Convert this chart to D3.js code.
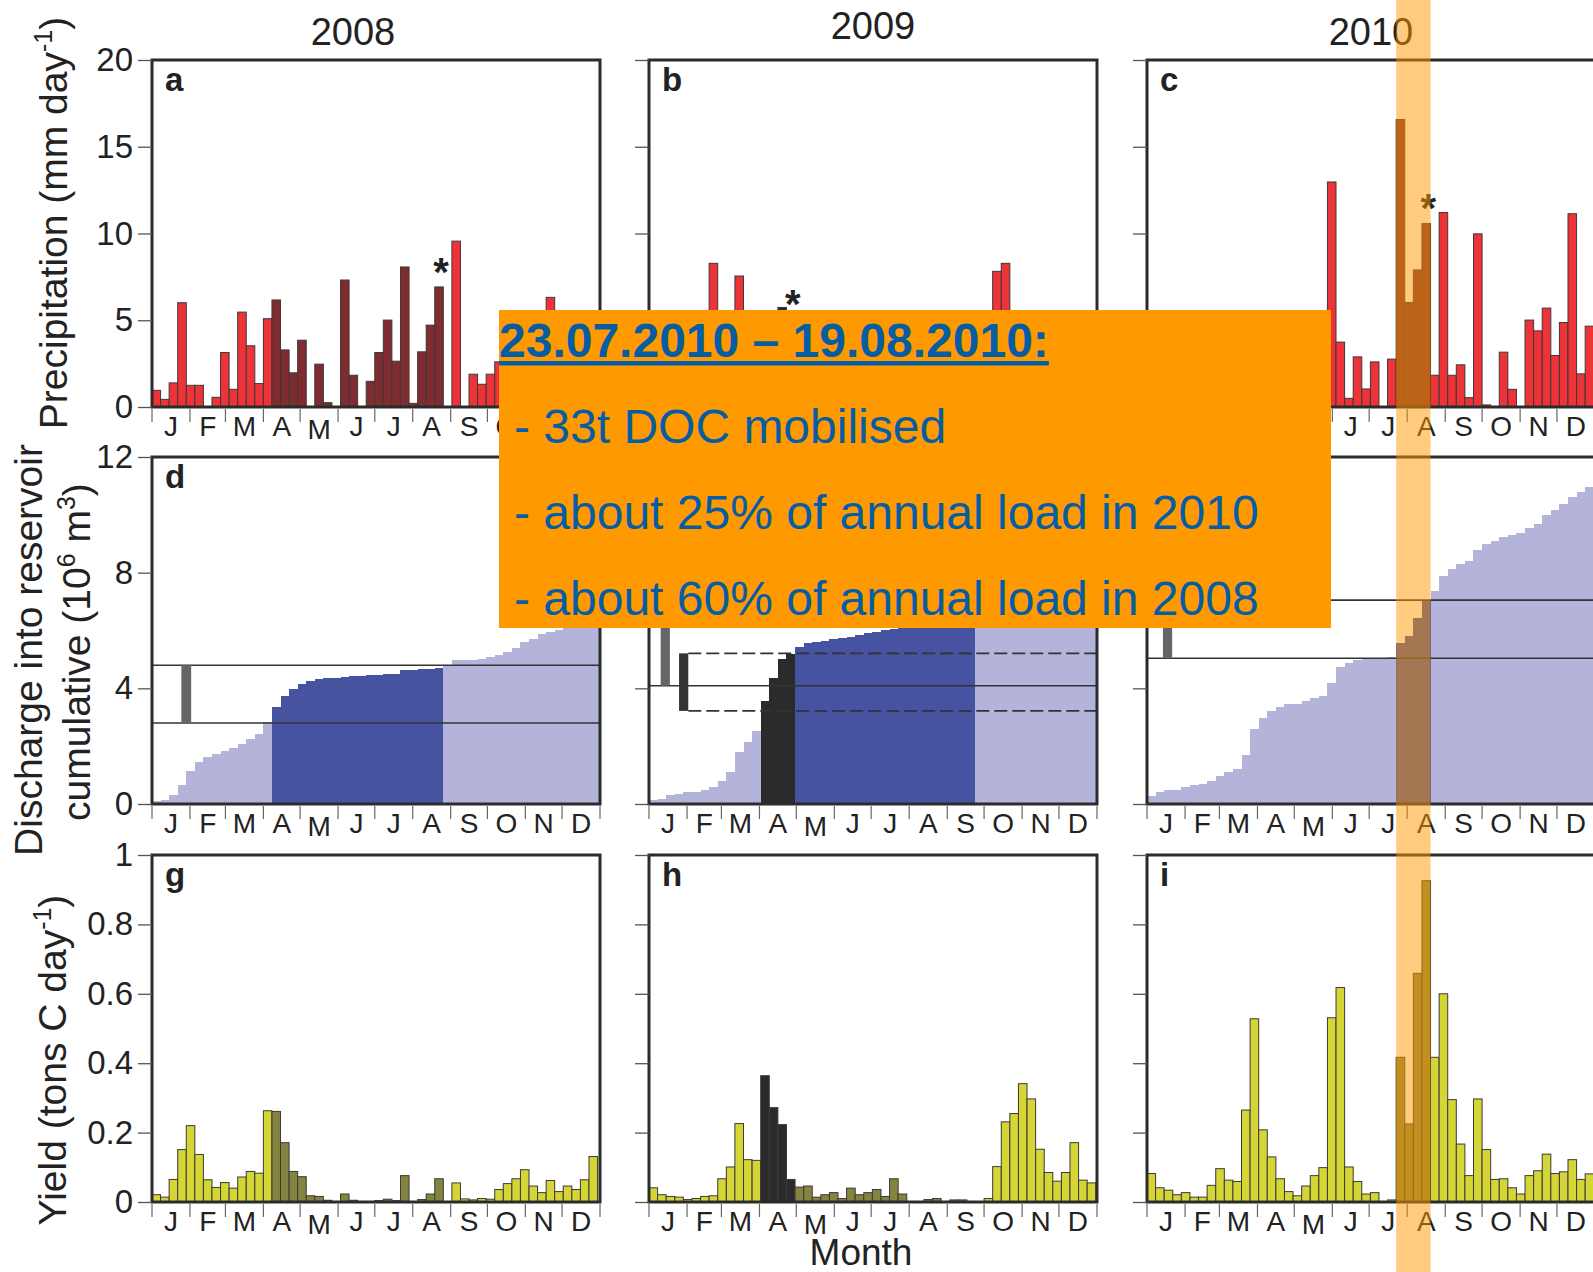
<!DOCTYPE html>
<html>
<head>
<meta charset="utf-8">
<script src="https://cdn.jsdelivr.net/npm/d3@7"></script>
<style>
  html, body { margin: 0; padding: 0; background: #fff; overflow: hidden; }
  svg { display: block; font-family: "Liberation Sans", Arial, Helvetica, sans-serif; }
</style>
</head>
<body>
<svg id="chart" width="1593" height="1272"></svg>
<script>
// ---- data ---------------------------------------------------------------
const years = [2008, 2009, 2010];
const monthLabels = ["J", "F", "M", "A", "M", "J", "J", "A", "S", "O", "N", "D"];
const panelLetters = [["a", "b", "c"], ["d", "e", "f"], ["g", "h", "i"]];

const precipTicks = [0, 5, 10, 15, 20];
const dischargeTicks = [0, 4, 8, 12];
const yieldTicks = [0, 0.2, 0.4, 0.6, 0.8, 1];

// weekly precipitation (mm day-1), weeks counted from 1 January
const precip2008 = [0.96, 0.44, 1.39, 6.01, 1.25, 1.25, 0, 0.56, 3.14, 1.02,
  5.47, 3.53, 1.35, 5.09, 6.17, 3.29, 1.97, 3.85, 0, 2.47,
  0.25, 0, 7.32, 1.83, 0, 1.48, 3.14, 5.01, 2.64, 8.07,
  0.21, 3.18, 4.72, 6.92, 0, 9.56, 0, 1.89, 1.31, 1.89,
  2.6, 1.3, 3.1, 0.9, 2.4, 1.5, 6.32, 2.2, 0.6, 3.4, 1.8, 2.7];
const precip2009 = [1.2, 0.5, 2.1, 0.8, 0, 1.6, 3.2, 8.28, 1.1, 2.4,
  7.55, 2.9, 0.7, 3.8, 1.9, 5.74, 5.1, 2.3, 0.4, 3.5,
  4.2, 1.0, 2.6, 4.8, 0.9, 3.1, 1.7, 4.4, 2.0, 0.6,
  3.9, 1.4, 2.8, 0.3, 1.5, 4.6, 2.2, 0.8, 1.9, 3.3,
  7.82, 8.28, 2.5, 1.2, 4.1, 2.7, 0.9, 3.6, 1.8, 2.4, 4.3, 1.5];
const precip2010 = [2.2, 0.8, 1.5, 3.1, 0.4, 1.9, 0.6, 2.8, 3.4, 1.2,
  2.5, 4.6, 4.9, 1.7, 2.3, 0.9, 1.4, 2.9, 3.6, 2.7,
  3.2, 12.97, 3.74, 0.5, 2.89, 1.04, 2.6, 0, 2.76, 16.57,
  6.03, 7.9, 10.58, 1.83, 11.21, 1.83, 2.43, 0.54, 9.98, 0.12,
  0, 3.16, 1.02, 0, 5.01, 4.39, 5.7, 2.97, 4.87, 11.14, 1.91, 4.66];

// cumulative discharge into the reservoir (10^6 m3) at the end of each week
const discharge2008 = [0.10, 0.15, 0.32, 0.67, 1.15, 1.46, 1.61, 1.73, 1.84, 1.93,
  2.08, 2.26, 2.42, 2.85, 3.37, 3.72, 3.97, 4.14, 4.27, 4.33,
  4.35, 4.35, 4.38, 4.41, 4.43, 4.45, 4.46, 4.48, 4.49, 4.64,
  4.65, 4.66, 4.67, 4.69, 4.80, 4.97, 4.98, 4.99, 5.02, 5.10,
  5.16, 5.27, 5.39, 5.59, 5.71, 5.88, 5.95, 6.02, 6.11, 6.15, 6.18, 6.20];
const discharge2009 = [0.15, 0.18, 0.32, 0.35, 0.40, 0.43, 0.49, 0.58, 0.78, 1.10,
  1.80, 2.14, 2.51, 3.57, 4.36, 5.00, 5.20, 5.42, 5.58, 5.60,
  5.64, 5.71, 5.75, 5.79, 5.85, 5.90, 5.96, 6.02, 6.05, 6.10,
  6.15, 6.20, 6.22, 6.25, 6.30, 6.33, 6.36, 6.40, 6.60, 6.90,
  7.60, 8.00, 8.30, 8.60, 8.80, 9.00, 9.10, 9.20, 9.35, 9.50, 9.55, 9.60];
const discharge2010 = [0.26, 0.41, 0.49, 0.50, 0.58, 0.67, 0.68, 0.78, 0.98, 1.10,
  1.21, 1.70, 2.59, 2.96, 3.20, 3.37, 3.45, 3.47, 3.57, 3.65,
  3.75, 4.18, 4.73, 4.89, 4.98, 5.00, 5.05, 5.06, 5.08, 5.58,
  5.82, 6.42, 7.05, 7.36, 7.88, 8.12, 8.30, 8.41, 8.78, 8.98,
  9.10, 9.24, 9.30, 9.36, 9.53, 9.70, 9.99, 10.16, 10.37, 10.60, 10.79, 10.97];

// weekly DOC yield (tons C day-1)
const yield2008 = [0.021, 0.014, 0.065, 0.151, 0.220, 0.137, 0.064, 0.042, 0.056, 0.040,
  0.072, 0.088, 0.083, 0.263, 0.261, 0.171, 0.088, 0.073, 0.018, 0.016,
  0.005, 0.001, 0.023, 0.005, 0, 0.001, 0.004, 0.008, 0.004, 0.076,
  0, 0.007, 0.023, 0.067, 0, 0.055, 0.009, 0.006, 0.010, 0.008,
  0.036, 0.053, 0.067, 0.093, 0.046, 0.027, 0.062, 0.030, 0.046, 0.036, 0.064, 0.131];
const yield2009 = [0.041, 0.021, 0.016, 0.014, 0.007, 0.010, 0.016, 0.018, 0.067, 0.101,
  0.226, 0.122, 0.120, 0.364, 0.272, 0.223, 0.065, 0.043, 0.046, 0.014,
  0.021, 0.027, 0.010, 0.040, 0.021, 0.027, 0.036, 0.016, 0.067, 0.023,
  0, 0.001, 0.007, 0.010, 0.001, 0.006, 0.006, 0.001, 0.001, 0.010,
  0.102, 0.231, 0.255, 0.341, 0.297, 0.152, 0.085, 0.060, 0.085, 0.171, 0.063, 0.055];
const yield2010 = [0.082, 0.041, 0.034, 0.021, 0.027, 0.014, 0.014, 0.048, 0.096, 0.063,
  0.059, 0.265, 0.528, 0.208, 0.130, 0.067, 0.030, 0.018, 0.046, 0.076,
  0.099, 0.531, 0.618, 0.101, 0.059, 0.023, 0.027, 0, 0.006, 0.417,
  0.225, 0.659, 0.926, 0.417, 0.600, 0.295, 0.167, 0.076, 0.297, 0.151,
  0.065, 0.067, 0.041, 0.023, 0.076, 0.090, 0.138, 0.082, 0.087, 0.122, 0.065, 0.081];

// highlighted periods (first and last week index, inclusive)
const eventWeeks = [[14, 33], [17, 37], [29, 32]];
const peakWeeks = [null, [13, 16], null];
// weeks marked with an asterisk in the precipitation panels
const starWeeks = [33, 16, 32];

// discharge ranges (day of year span, lower and upper value) and reference levels
const rangeBars2008 = [{ from: 24, to: 32, lo: 2.8, hi: 4.8, tone: "#666" }];
const rangeBars2009 = [{ from: 9.5, to: 17, lo: 4.09, hi: 6.3, tone: "#666" },
                       { from: 24.5, to: 32, lo: 3.22, hi: 5.21, tone: "#333" }];
const rangeBars2010 = [{ from: 13, to: 20.5, lo: 5.04, hi: 7.05, tone: "#666" }];
const levels2008 = [{ v: 2.8, dashed: false, from: 0 }, { v: 4.8, dashed: false, from: 0 }];
const levels2009 = [{ v: 4.09, dashed: false, from: 0 }, { v: 6.3, dashed: false, from: 0 },
                    { v: 3.22, dashed: true, from: 32 }, { v: 5.21, dashed: true, from: 32 }];
const levels2010 = [{ v: 5.04, dashed: false, from: 0 }, { v: 7.05, dashed: false, from: 0 }];

// mobilisation window in 2010
const windowStart = new Date(2010, 6, 23);
const windowEnd = new Date(2010, 7, 20);

const noteTitle = "23.07.2010 \u2013 19.08.2010:";
const noteLines = ["- 33t DOC mobilised",
                   "- about 25% of annual load in 2010",
                   "- about 60% of annual load in 2008"];

// ---- layout -------------------------------------------------------------
const colLeft = [152, 649, 1147];
const colW = 448;
const rowTop = [60, 457, 855];
const rowH = 347;

const precipColors = { base: "#EE3338", dark: "#7F2B2F", black: "#2B2B2B" };
const dischargeColors = { base: "#B4B4DA", dark: "#4553A1", black: "#2B2B2B" };
const yieldColors = { base: "#D6D536", dark: "#85843F", black: "#2B2B2B" };

const rows = [
  { series: [precip2008, precip2009, precip2010], max: 20, ticks: precipTicks, colors: precipColors, kind: "bar" },
  { series: [discharge2008, discharge2009, discharge2010], max: 12, ticks: dischargeTicks, colors: dischargeColors, kind: "step" },
  { series: [yield2008, yield2009, yield2010], max: 1, ticks: yieldTicks, colors: yieldColors, kind: "bar" }
];
const rangeBars = [rangeBars2008, rangeBars2009, rangeBars2010];
const levels = [levels2008, levels2009, levels2010];

function tone(ci, k) {
  const p = peakWeeks[ci];
  if (p && k >= p[0] && k <= p[1]) return "black";
  const e = eventWeeks[ci];
  if (k >= e[0] && k <= e[1]) return "dark";
  return "base";
}

const svg = d3.select("#chart");
const tickFmt = d3.format("~g");
const xScales = [];

rows.forEach((row, ri) => {
  years.forEach((yr, ci) => {
    const start = new Date(yr, 0, 1);
    const end = new Date(yr + 1, 0, 1);
    const x = d3.scaleTime().domain([start, end]).range([0, colW]);
    const y = d3.scaleLinear().domain([0, row.max]).range([rowH, 0]);
    xScales[ci] = x;
    const g = svg.append("g").attr("transform", `translate(${colLeft[ci]},${rowTop[ri]})`);
    const values = row.series[ci].map((v, k) => ({
      v, k,
      ws: d3.timeDay.offset(start, 7 * k),
      we: k === 51 && row.kind === "step" ? end : d3.timeDay.offset(start, 7 * (k + 1))
    }));

    if (row.kind === "bar") {
      g.selectAll("rect.bar").data(values.filter(d => d.v > 0)).join("rect")
        .attr("class", "bar")
        .attr("x", d => x(d.ws))
        .attr("width", d => x(d.we) - x(d.ws))
        .attr("y", d => y(d.v))
        .attr("height", d => y(0) - y(d.v))
        .attr("fill", d => row.colors[tone(ci, d.k)])
        .attr("stroke", "#3a3a3a")
        .attr("stroke-width", 1);
    } else {
      g.selectAll("rect.step").data(values).join("rect")
        .attr("class", "step")
        .attr("x", d => x(d.ws))
        .attr("width", d => x(d.we) - x(d.ws))
        .attr("y", d => y(d.v))
        .attr("height", d => y(0) - y(d.v))
        .attr("fill", d => row.colors[tone(ci, d.k)])
        .attr("shape-rendering", "crispEdges");

      const dayX = day => x(new Date(start.getTime() + day * 864e5));
      g.selectAll("line.level").data(levels[ci]).join("line")
        .attr("class", "level")
        .attr("x1", d => dayX(d.from)).attr("x2", colW)
        .attr("y1", d => y(d.v)).attr("y2", d => y(d.v))
        .attr("stroke", "#333").attr("stroke-width", 1.6)
        .attr("stroke-dasharray", d => d.dashed ? "13,5" : null);
      g.selectAll("rect.range").data(rangeBars[ci]).join("rect")
        .attr("class", "range")
        .attr("x", d => dayX(d.from))
        .attr("width", d => dayX(d.to) - dayX(d.from))
        .attr("y", d => y(d.hi))
        .attr("height", d => y(d.lo) - y(d.hi))
        .attr("fill", d => d.tone);
    }

    if (ri === 0) {
      const k = starWeeks[ci];
      const d = values[k];
      g.append("text")
        .attr("x", (x(d.ws) + x(d.we)) / 2 + 2)
        .attr("y", y(d.v) - 1)
        .attr("text-anchor", "middle")
        .attr("font-size", 40).attr("font-weight", "bold")
        .attr("fill", "#222")
        .text("*");
    }

    // frame
    g.append("rect").attr("x", 0).attr("y", 0).attr("width", colW).attr("height", rowH)
      .attr("fill", "none").attr("stroke", "#2B2B2B").attr("stroke-width", 3);

    // value axis
    const ax = g.append("g").call(
      d3.axisLeft(y).tickValues(row.ticks).tickSize(14).tickPadding(5)
        .tickFormat(ci === 0 ? tickFmt : () => "")
    );
    ax.select(".domain").remove();
    ax.selectAll(".tick line").attr("stroke", "#555").attr("stroke-width", 1.3);
    ax.selectAll(".tick text").attr("font-size", 33).attr("fill", "#222")
      .attr("font-family", '"Liberation Sans", Arial, sans-serif');

    // month axis
    const bounds = d3.timeMonth.range(start, d3.timeDay.offset(end, 1));
    g.selectAll("line.mtick").data(bounds).join("line")
      .attr("class", "mtick")
      .attr("x1", d => x(d)).attr("x2", d => x(d))
      .attr("y1", rowH + 2).attr("y2", rowH + 15)
      .attr("stroke", "#666").attr("stroke-width", 1.2);
    g.selectAll("text.mlab").data(monthLabels).join("text")
      .attr("class", "mlab")
      .attr("x", (d, i) => (x(bounds[i]) + x(bounds[i + 1])) / 2)
      .attr("y", (d, i) => rowH + 29 + (i === 4 ? 3 : 0))
      .attr("text-anchor", "middle")
      .attr("font-size", 28).attr("fill", "#222")
      .text(d => d);

    g.append("text").attr("x", 13).attr("y", 31)
      .attr("font-size", 33).attr("font-weight", "bold").attr("fill", "#222")
      .text(panelLetters[ri][ci]);
  });
});

// year headings
const yearX = [colLeft[0] + colW / 2 - 23, colLeft[1] + colW / 2, colLeft[2] + colW / 2];
const yearY = [45, 39, 45];
svg.selectAll("text.year").data(years).join("text")
  .attr("class", "year")
  .attr("x", (d, i) => yearX[i]).attr("y", (d, i) => yearY[i])
  .attr("text-anchor", "middle").attr("font-size", 38).attr("fill", "#222")
  .text(d => d);

// axis titles
function vTitle(cx, cy, parts) {
  const t = svg.append("text")
    .attr("transform", `translate(${cx},${cy}) rotate(-90)`)
    .attr("text-anchor", "middle").attr("font-size", 39).attr("fill", "#222");
  parts.forEach(p => {
    const s = t.append("tspan").text(p.t);
    if (p.sup) s.attr("dy", -15).attr("font-size", 25);
    if (p.after) s.attr("dy", 15);
  });
}
vTitle(67, 223, [{ t: "Precipitation (mm day" }, { t: "-1", sup: true }, { t: ")", after: true }]);
vTitle(42, 650, [{ t: "Discharge into reservoir" }]);
vTitle(90, 652, [{ t: "cumulative (10" }, { t: "6", sup: true }, { t: " m", after: true }, { t: "3", sup: true }, { t: ")", after: true }]);
vTitle(66, 1060, [{ t: "Yield (tons C day" }, { t: "-1", sup: true }, { t: ")", after: true }]);

svg.append("text").attr("x", 861).attr("y", 1265).attr("text-anchor", "middle")
  .attr("font-size", 37).attr("fill", "#222").text("Month");

// note box
const note = svg.append("g");
note.append("rect").attr("x", 499).attr("y", 310).attr("width", 832).attr("height", 318)
  .attr("fill", "#FF9900");
const titleText = note.append("text").attr("x", 499).attr("y", 357)
  .attr("font-size", 48).attr("font-weight", "bold").attr("fill", "#065DA4")
  .text(noteTitle);
const tl = titleText.node().getComputedTextLength();
note.append("rect").attr("x", 499).attr("y", 361).attr("width", tl).attr("height", 4.5)
  .attr("fill", "#065DA4");
note.selectAll("text.line").data(noteLines).join("text")
  .attr("class", "line")
  .attr("x", 514).attr("y", (d, i) => 443 + i * 86)
  .attr("font-size", 48).attr("fill", "#065DA4")
  .text(d => d);

// mobilisation window band across all 2010 panels
const xc = xScales[2];
svg.append("rect")
  .attr("x", colLeft[2] + xc(windowStart))
  .attr("width", xc(windowEnd) - xc(windowStart))
  .attr("y", 0).attr("height", 1272)
  .attr("fill", "rgba(255,153,0,0.5)");
</script>
</body>
</html>
